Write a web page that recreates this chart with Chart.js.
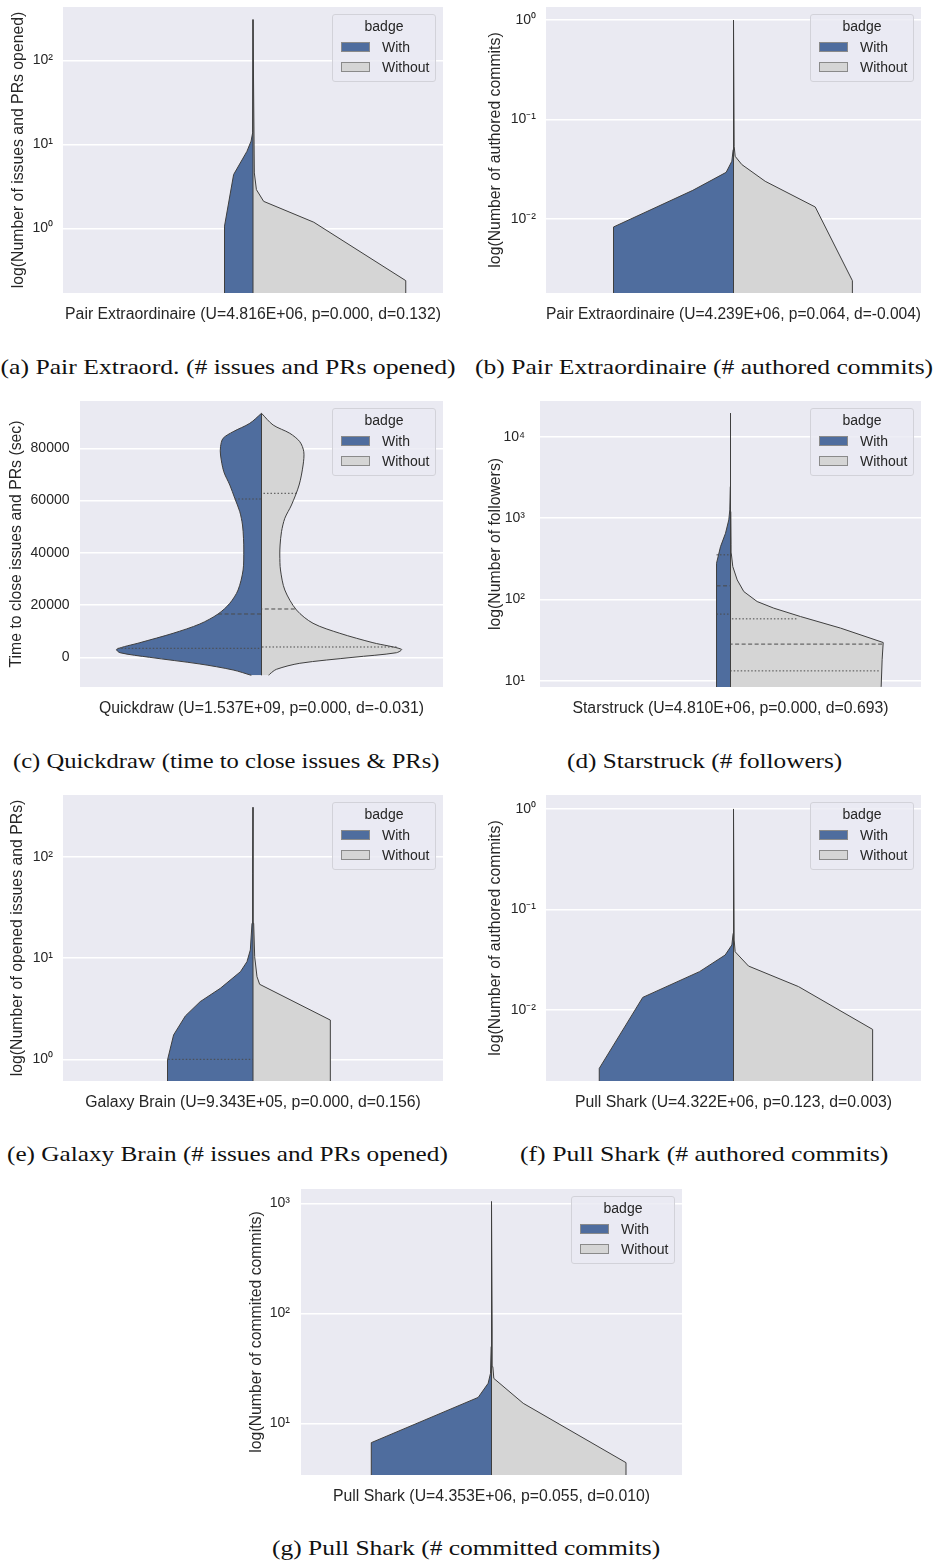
<!DOCTYPE html>
<html>
<head>
<meta charset="utf-8">
<script src="https://cdn.jsdelivr.net/npm/chart.js@4/dist/chart.umd.min.js"></script>
<style>
  body { margin: 0; background: #fff; }
  #page { position: relative; width: 936px; height: 1562px; overflow: hidden; font-family: "Liberation Sans", Arial, sans-serif; color: #262626; }
  #page canvas { position: absolute; }
  .legend { position: absolute; width: 104px; height: 68px; box-sizing: border-box; border: 1px solid #d2d2d9; border-radius: 3px; background: rgba(234,234,242,0.8); font-size: 14px; }
  .legend div { position: absolute; line-height: 20px; white-space: nowrap; }
  .legend .sw { position: absolute; left: 8px; width: 29px; height: 10px; box-sizing: border-box; border: 1px solid #8a8a8a; }
  .caption { position: absolute; white-space: nowrap; font-family: "Liberation Serif", "DejaVu Serif", serif; font-size: 21px; line-height: 24px; color: #111; transform-origin: center; }
</style>
</head>
<body>
<div id="page"></div>
<script>
// Split violins: value levels (bottom -> top) and half widths (category units, max 0.5)

// (a) Pair Extraordinaire - issues and PRs opened
const aWithLevels = [0.1, 1.07, 4.4, 8.3, 11.0, 13.8, 308];
const aWithWidths = [0.075, 0.075, 0.051, 0.016, 0.005, 0.001, 0];
const aWithoutLevels = [0.1, 0.24, 1.19, 2.11, 2.91, 4.6, 308];
const aWithoutWidths = [0.402, 0.402, 0.160, 0.028, 0.009, 0.0035, 0];
const aTicks = [1, 10, 100];
const aTickLabels = ['10⁰', '10¹', '10²'];

// (b) Pair Extraordinaire - authored commits
const bWithLevels = [0.001, 0.00824, 0.0193, 0.0293, 0.0379, 0.0496, 1.0];
const bWithWidths = [0.320, 0.320, 0.1085, 0.0196, 0.0044, 0.0009, 0];
const bWithoutLevels = [0.001, 0.00237, 0.0131, 0.0238, 0.0351, 0.0425, 0.0537, 1.0];
const bWithoutWidths = [0.317, 0.317, 0.218, 0.0845, 0.0222, 0.0044, 0.0018, 0];
const bTicks = [0.01, 0.1, 1];
const bTickLabels = ['10⁻²', '10⁻¹', '10⁰'];

// (c) Quickdraw - time to close issues and PRs
const cWithLevels = [-6890, -4849, -2552, 0, 1772, 3074, 5600, 9198, 12758, 16586, 20682, 25773, 33429,
  41084, 45562, 50653, 55744, 60873, 65964, 71055, 77447, 80625, 83840, 86366, 89582, 93409];
const cWithWidths = [0.028, 0.078, 0.170, 0.308, 0.390, 0.399, 0.335, 0.2435, 0.170, 0.1196, 0.0873, 0.0645, 0.0507,
  0.0488, 0.0496, 0.0523, 0.0598, 0.0736, 0.0873, 0.1039, 0.1129, 0.1129, 0.1058, 0.0782, 0.0322, 0];
const cWithoutLevels = [-6890, -6381, -4582, -2285, 0, 1772, 3074, 5600, 9198, 13026, 18117, 25773, 33429,
  39171, 42999, 48090, 53220, 58310, 65964, 73620, 78711, 82539, 85755, 88932, 93409];
const cWithoutWidths = [0.02, 0.0229, 0.0413, 0.1055, 0.252, 0.372, 0.3857, 0.307, 0.2157, 0.142, 0.0964, 0.0642, 0.0523,
  0.0504, 0.0512, 0.0551, 0.0642, 0.0826, 0.1036, 0.1146, 0.1165, 0.1055, 0.078, 0.032, 0];
const cWithQuartiles = [3457, 16586, 60605];
const cWithQuartileWidths = [0.396, 0.1196, 0.0736];
const cWithoutQuartiles = [3954, 18500, 62787];
const cWithoutQuartileWidths = [0.372, 0.0917, 0.0964];
const cTicks = [0, 20000, 40000, 60000, 80000];
const cTickLabels = ['0', '20000', '40000', '60000', '80000'];

// (d) Starstruck - followers
const dWithLevels = [5, 279, 447, 653, 953, 1265, 2449, 19540];
const dWithWidths = [0.0367, 0.0367, 0.0262, 0.0131, 0.0045, 0.0018, 0.0005, 0];
const dWithoutLevels = [5, 8.5, 18.1, 29.5, 44.4, 61.6, 78.1, 94.2, 125, 174, 254, 371, 470, 1205, 19540];
const dWithoutWidths = [0.3955, 0.3955, 0.398, 0.4008, 0.2887, 0.1837, 0.1137, 0.070, 0.0349, 0.0176, 0.006, 0.002, 0.0015, 0.0008, 0];
const dWithQuartiles = [66, 147, 354];
const dWithQuartileWidths = [0.0367, 0.0367, 0.0367];
const dWithoutQuartiles = [13.2, 28.2, 57.7];
const dWithoutQuartileWidths = [0.389, 0.398, 0.173];
const dTicks = [10, 100, 1000, 10000];
const dTickLabels = ['10¹', '10²', '10³', '10⁴'];

// (e) Galaxy Brain - issues and PRs opened
const eWithLevels = [0.4, 0.815, 0.985, 1.74, 2.68, 3.71, 5.02, 7.33, 9.2, 12.0, 22.0, 68.5, 307];
const eWithWidths = [0.226, 0.226, 0.224, 0.209, 0.178, 0.139, 0.086, 0.033, 0.0158, 0.007, 0.0026, 0.0009, 0];
const eWithoutLevels = [0.4, 2.44, 5.5, 6.54, 10.3, 22, 307];
const eWithoutWidths = [0.2035, 0.2035, 0.0175, 0.0105, 0.0044, 0.0018, 0];
const eWithQuartiles = [1.0];
const eWithQuartileWidths = [0.223];
const eTicks = [1, 10, 100];
const eTickLabels = ['10⁰', '10¹', '10²'];

// (f) Pull Shark - authored commits
const fWithLevels = [0.001, 0.00263, 0.01337, 0.0241, 0.0353, 0.0444, 0.058, 1.0];
const fWithWidths = [0.358, 0.358, 0.242, 0.0907, 0.0222, 0.0044, 0.0009, 0];
const fWithoutLevels = [0.001, 0.00642, 0.0171, 0.0274, 0.038, 0.0497, 1.0];
const fWithoutWidths = [0.371, 0.371, 0.1735, 0.040, 0.0044, 0.0018, 0];
const fTicks = [0.01, 0.1, 1];
const fTickLabels = ['10⁻²', '10⁻¹', '10⁰'];

// (g) Pull Shark - committed commits
const gWithLevels = [2, 6.67, 17.2, 23.1, 28.5, 49.8, 1036];
const gWithWidths = [0.3155, 0.3155, 0.035, 0.0088, 0.0026, 0.0009, 0];
const gWithoutLevels = [2, 4.39, 15.2, 25.6, 32.7, 70.5, 1036];
const gWithoutWidths = [0.353, 0.353, 0.0833, 0.0061, 0.0035, 0.0018, 0];
const gTicks = [10, 100, 1000];
const gTickLabels = ['10¹', '10²', '10³'];

const yTitles = [
  'log(Number of issues and PRs opened)', 'log(Number of authored commits)',
  'Time to close issues and PRs (sec)', 'log(Number of followers)',
  'log(Number of opened issues and PRs)', 'log(Number of authored commits)',
  'log(Number of commited commits)'
];
const xTitles = [
  'Pair Extraordinaire (U=4.816E+06, p=0.000, d=0.132)', 'Pair Extraordinaire (U=4.239E+06, p=0.064, d=-0.004)',
  'Quickdraw (U=1.537E+09, p=0.000, d=-0.031)', 'Starstruck (U=4.810E+06, p=0.000, d=0.693)',
  'Galaxy Brain (U=9.343E+05, p=0.000, d=0.156)', 'Pull Shark (U=4.322E+06, p=0.123, d=0.003)',
  'Pull Shark (U=4.353E+06, p=0.055, d=0.010)'
];
const captions = [
  '(a) Pair Extraord. (# issues and PRs opened)', '(b) Pair Extraordinaire (# authored commits)',
  '(c) Quickdraw (time to close issues & PRs)', '(d) Starstruck (# followers)',
  '(e) Galaxy Brain (# issues and PRs opened)', '(f) Pull Shark (# authored commits)',
  '(g) Pull Shark (# committed commits)'
];
const legendLabels = ['With', 'Without'];

const BLUE = '#4F6D9E';
const LIGHT = '#D5D5D5';
const OUTLINE = '#3F3F3F';
const PLOT_BG = '#EAEAF2';
const TEXT = '#262626';

const panels = [
  { plot: [63, 7, 443, 293], titleX: 18.7, tickGap: 10, log: true, yMin: 0.171, yMax: 435,
    ticks: aTicks, tickLabels: aTickLabels, withV: aWithLevels, withW: aWithWidths,
    withoutV: aWithoutLevels, withoutW: aWithoutWidths, cap: [227.5, 366.7, 455] },
  { plot: [546, 7, 921, 293], titleX: 496, tickGap: 10, log: true, yMin: 0.00178, yMax: 1.36,
    ticks: bTicks, tickLabels: bTickLabels, withV: bWithLevels, withW: bWithWidths,
    withoutV: bWithoutLevels, withoutW: bWithoutWidths, cap: [704, 366.7, 458] },
  { plot: [80, 401, 443, 687], titleX: 16.7, tickGap: 10.5, log: false, yMin: -11360, yMax: 98120,
    ticks: cTicks, tickLabels: cTickLabels, withV: cWithLevels, withW: cWithWidths,
    withoutV: cWithoutLevels, withoutW: cWithoutWidths, tension: 0.3,
    withQ: cWithQuartiles, withQW: cWithQuartileWidths, withoutQ: cWithoutQuartiles, withoutQW: cWithoutQuartileWidths,
    cap: [226.7, 761, 427] },
  { plot: [540, 401, 921, 687], titleX: 496, tickGap: 15, log: true, yMin: 8.36, yMax: 27730,
    ticks: dTicks, tickLabels: dTickLabels, withV: dWithLevels, withW: dWithWidths,
    withoutV: dWithoutLevels, withoutW: dWithoutWidths,
    withQ: dWithQuartiles, withQW: dWithQuartileWidths, withoutQ: dWithoutQuartiles, withoutQW: dWithoutQuartileWidths,
    cap: [704, 761, 275] },
  { plot: [63, 795, 443, 1081], titleX: 18.3, tickGap: 10, log: true, yMin: 0.611, yMax: 406,
    ticks: eTicks, tickLabels: eTickLabels, withV: eWithLevels, withW: eWithWidths,
    withoutV: eWithoutLevels, withoutW: eWithoutWidths,
    withQ: eWithQuartiles, withQW: eWithQuartileWidths, cap: [227.5, 1154.3, 441] },
  { plot: [546, 795, 921, 1081], titleX: 496, tickGap: 10, log: true, yMin: 0.00197, yMax: 1.377,
    ticks: fTicks, tickLabels: fTickLabels, withV: fWithLevels, withW: fWithWidths,
    withoutV: fWithoutLevels, withoutW: fWithoutWidths, cap: [704, 1154.3, 368] },
  { plot: [301, 1189, 682, 1475], titleX: 256.7, tickGap: 11, log: true, yMin: 3.39, yMax: 1349,
    ticks: gTicks, tickLabels: gTickLabels, withV: gWithLevels, withW: gWithWidths,
    withoutV: gWithoutLevels, withoutW: gWithoutWidths, cap: [466, 1548.3, 388] }
];

const page = document.getElementById('page');
const TICK_FONT = { family: '"Liberation Sans", Arial, sans-serif', size: 14, lineHeight: 1.2 };
const TITLE_FONT = { family: '"Liberation Sans", Arial, sans-serif', size: 15.8, lineHeight: 1.2 };

const plotBackground = {
  id: 'plotBackground',
  beforeDraw(chart) {
    const { ctx, chartArea: a } = chart;
    ctx.save();
    ctx.fillStyle = PLOT_BG;
    ctx.fillRect(a.left, a.top, a.width, a.height);
    ctx.restore();
  }
};

function halfSet(levels, widths, sign, color, tension) {
  return {
    data: levels.map((v, i) => ({ x: sign * widths[i], y: v })),
    backgroundColor: color,
    borderColor: OUTLINE,
    borderWidth: 1,
    fill: 'origin',
    pointRadius: 0,
    tension: tension || 0
  };
}

function lineSet(points, dash) {
  return { data: points, borderColor: '#4a4a4a', borderWidth: 1, borderDash: dash, fill: false, pointRadius: 0 };
}

// Q1 dotted, median dashed, Q3 dotted
function quartileSets(levels, widths, sign) {
  if (!levels) return [];
  return levels.map((v, i) => {
    const dash = (levels.length === 3 && i === 1) ? [4, 2.5] : [1.5, 2];
    return lineSet([{ x: sign * widths[i], y: v }, { x: 0, y: v }], dash);
  });
}

function drawPanel(p, idx) {
  const [l, t, r, b] = p.plot;
  const left = Math.round(p.titleX - 12);
  const canvas = document.createElement('canvas');
  canvas.width = r - left;
  canvas.height = b - t + 31;
  canvas.style.left = left + 'px';
  canvas.style.top = t + 'px';
  page.appendChild(canvas);

  const lo = Math.min(p.withV[0], p.withoutV[0]);
  const hi = Math.max(p.withV[p.withV.length - 1], p.withoutV[p.withoutV.length - 1]);

  const datasets = [
    ...quartileSets(p.withQ, p.withQW, -1),
    ...quartileSets(p.withoutQ, p.withoutQW, 1),
    { data: [{ x: 0, y: lo }, { x: 0, y: hi }], borderColor: OUTLINE, borderWidth: 1, fill: false, pointRadius: 0 },
    halfSet(p.withV, p.withW, -1, BLUE, p.tension),
    halfSet(p.withoutV, p.withoutW, 1, LIGHT, p.tension)
  ];

  new Chart(canvas, {
    type: 'line',
    data: { datasets },
    options: {
      indexAxis: 'y',
      responsive: false,
      animation: false,
      devicePixelRatio: 1,
      layout: { padding: 0 },
      plugins: { legend: { display: false }, tooltip: { enabled: false } },
      scales: {
        x: {
          type: 'linear', min: -0.5, max: 0.5,
          ticks: { display: false },
          grid: { display: false },
          border: { display: false },
          title: { display: true, text: xTitles[idx], color: TEXT, font: TITLE_FONT, padding: 0 },
          afterFit: s => { s.height = 31; s.paddingLeft = 0; s.paddingRight = 0; }
        },
        y: {
          type: p.log ? 'logarithmic' : 'linear',
          min: p.yMin, max: p.yMax,
          bounds: 'data',
          afterBuildTicks: s => { s.ticks = p.ticks.map(v => ({ value: v })); },
          afterFit: s => { s.width = l - left; s.paddingTop = 0; s.paddingBottom = 0; },
          ticks: {
            autoSkip: false, padding: p.tickGap, color: TEXT, font: TICK_FONT,
            callback: (v, i) => p.tickLabels[i]
          },
          grid: { color: '#ffffff', lineWidth: 1.5, drawTicks: false },
          border: { display: false },
          title: { display: true, text: yTitles[idx], color: TEXT, font: TITLE_FONT, padding: { top: 2.5, bottom: 0 } }
        }
      }
    },
    plugins: [plotBackground]
  });

  addLegend(r, t);
  addCaption(captions[idx], p.cap);
}

function addLegend(r, t) {
  const box = document.createElement('div');
  box.className = 'legend';
  box.style.left = (r - 7 - 104) + 'px';
  box.style.top = (t + 6.5) + 'px';
  box.innerHTML = `
    <div style="top:1px;left:0;width:102px;text-align:center">badge</div>
    <span class="sw" style="top:27.5px;background:${BLUE}"></span>
    <div style="top:22.4px;left:49px">${legendLabels[0]}</div>
    <span class="sw" style="top:47.8px;background:${LIGHT}"></span>
    <div style="top:42.7px;left:49px">${legendLabels[1]}</div>
  `;
  page.appendChild(box);
}

function addCaption(text, cap) {
  const [cx, cy, w] = cap;
  const el = document.createElement('div');
  el.className = 'caption';
  el.textContent = text;
  page.appendChild(el);
  const natural = el.offsetWidth;
  el.style.left = (cx - natural / 2) + 'px';
  el.style.top = (cy - 12) + 'px';
  el.style.transform = `scaleX(${w / natural})`;
}

document.addEventListener('DOMContentLoaded', () => {
  Chart.defaults.font.family = TICK_FONT.family;
  panels.forEach(drawPanel);
});
</script>
</body>
</html>
